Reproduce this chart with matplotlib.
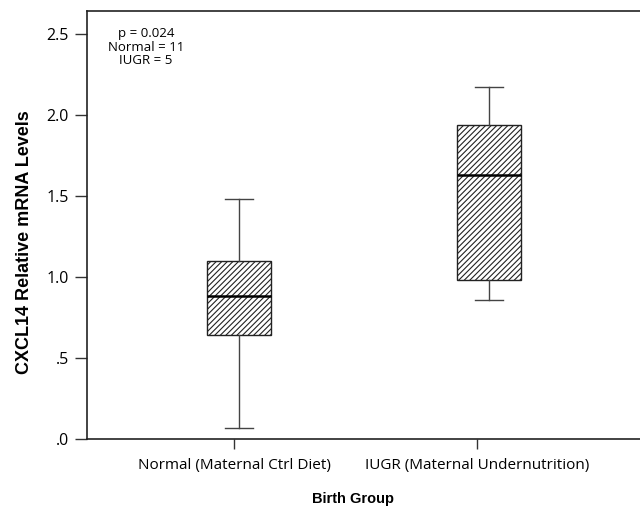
import matplotlib
matplotlib.use("Agg")
import matplotlib.pyplot as plt
from matplotlib.ticker import FuncFormatter

# Données
groups = ["Normal (Maternal Ctrl Diet)", "IUGR (Maternal Undernutrition)"]
whisker_low = [0.07, 0.86]
q1 = [0.64, 0.98]
median = [0.88, 1.63]
q3 = [1.10, 1.94]
whisker_high = [1.48, 2.17]
yticks = [0.0, 0.5, 1.0, 1.5, 2.0, 2.5]

plt.rcParams["hatch.linewidth"] = 0.8

fig = plt.figure(figsize=(6.4, 5.09), dpi=100)
ax = fig.add_axes([87 / 640, 1 - 439 / 509, 1 - 87 / 640, 428 / 509])

stats = []
for i, g in enumerate(groups):
    stats.append(dict(label=g, whislo=whisker_low[i], q1=q1[i], med=median[i],
                      q3=q3[i], whishi=whisker_high[i], fliers=[]))

bp = ax.bxp(stats, positions=range(len(groups)), widths=0.256, capwidths=0.11,
            patch_artist=True, showfliers=False,
            boxprops=dict(facecolor="white", edgecolor="#222222", linewidth=1.0),
            medianprops=dict(color="black", linewidth=1.8),
            whiskerprops=dict(color="#444444", linewidth=1.0),
            capprops=dict(color="#444444", linewidth=1.0))
for box in bp["boxes"]:
    box.set_hatch("//////")

ax.set_xlim(-0.608, 1.604)
ax.set_ylim(0, 2.642)
# les graduations x de SPSS sont légèrement décalées par rapport aux boîtes
ax.set_xticks([-0.02, 0.952], groups)
ax.set_yticks(yticks)
ax.yaxis.set_major_formatter(FuncFormatter(lambda v, p: f"{v:.1f}".lstrip("0") if v < 1 else f"{v:.1f}"))

for s in ["top", "left", "bottom"]:
    ax.spines[s].set_color("#222222")
    ax.spines[s].set_linewidth(1.2)
ax.spines["right"].set_visible(False)

ax.tick_params(axis="y", length=9, width=1, labelsize=11.5, pad=4, color="#333333")
ax.tick_params(axis="x", length=7, width=1, labelsize=11, pad=7, color="#333333")
for lab in ax.get_xticklabels() + ax.get_yticklabels():
    lab.set_family("Open Sans")

ax.set_ylabel("CXCL14 Relative mRNA Levels", fontsize=13, fontweight="bold",
              family="Liberation Sans", labelpad=8)
ax.yaxis.set_label_coords(-0.097, 0.46)
ax.set_xlabel("Birth Group", fontsize=10.5, fontweight="bold",
              family="Liberation Sans", labelpad=10)
ax.xaxis.set_label_coords(0.481, -0.125)

ax.text(0.107, 0.963, "p = 0.024\nNormal = 11\nIUGR = 5", transform=ax.transAxes,
        ha="center", va="top", fontsize=9.5, family="Open Sans", linespacing=1.08)

fig.savefig("out.png", dpi=100)
